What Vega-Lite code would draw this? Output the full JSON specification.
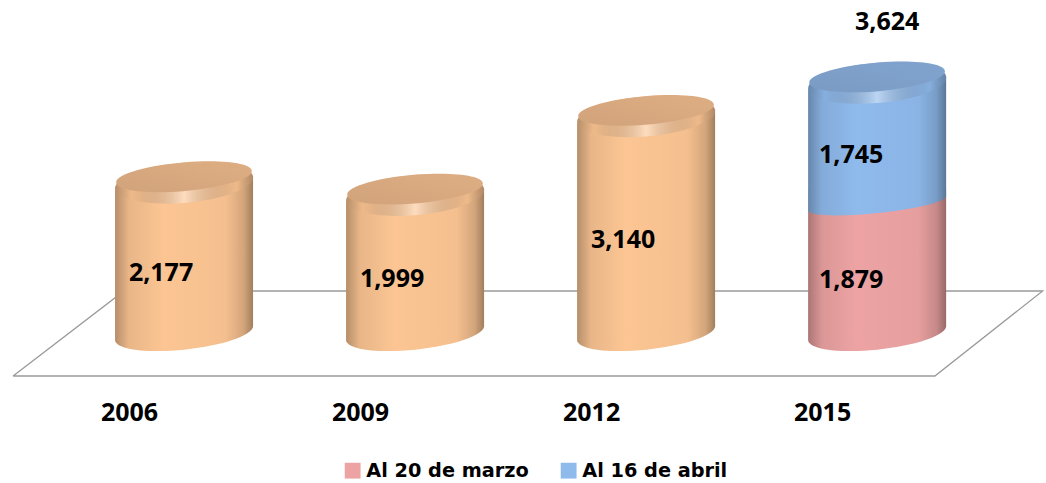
{
"$schema":"https://vega.github.io/schema/vega-lite/v6.json",
"width":1046,"height":400,
"autosize":{"type":"none"},
"padding":{"left":0,"top":0,"right":0,"bottom":83},
"background":"white",
"config":{"view":{"stroke":null}},
"datasets":{
"bars":[
{"year":2006,"series":"Total","start":0,"end":2177,"value":2177},
{"year":2009,"series":"Total","start":0,"end":1999,"value":1999},
{"year":2012,"series":"Total","start":0,"end":3140,"value":3140},
{"year":2015,"series":"Al 20 de marzo","start":0,"end":1879,"value":1879},
{"year":2015,"series":"Al 16 de abril","start":1879,"end":3624,"value":1745}
],
"floor":[
{"year":2003.78,"level":-623,"step":1},
{"year":2005.22,"level":609,"step":2},
{"year":2017.15,"level":609,"step":3},
{"year":2015.75,"level":-623,"step":4},
{"year":2003.78,"level":-623,"step":5}
],
"totals":[{"year":2015,"total":3624}]
},
"encoding":{"x":{"field":"year","type":"quantitative","scale":{"domain":[2003.61,2017.193],"nice":false,"zero":false,"padding":0},"axis":{"values":[2006,2009,2012,2015],"format":"d","title":null,"domain":false,"ticks":false,"grid":false,"labelOffset":-55,"labelFont":"Open Sans","labelFontWeight":"bold","labelFontSize":25,"labelColor":"#000","labelPadding":0,"labelBaseline":"top"}}},
"layer":[
{"data":{"name":"floor"},"mark":{"type":"line","color":"#9a9a9a","strokeWidth":1.3},
 "encoding":{"y":{"field":"level","type":"quantitative","scale":{"domain":[-971,4826],"nice":false,"zero":false},"axis":null},"order":{"field":"step"}}},
{"data":{"name":"bars"},"transform":[{"filter":"datum.start==0"}],"mark":{"type":"bar","width":138,"yOffset":7,"y2Offset":-7},
 "encoding":{"y":{"field":"start","type":"quantitative","axis":null},"y2":{"field":"end"},
 "color":{"field":"series","type":"nominal","scale":{"domain":["Al 20 de marzo","Al 16 de abril","Total"],"range":["#EDA3A3","#8FBAEC","#FCC593"]},
 "legend":{"values":["Al 20 de marzo","Al 16 de abril"],"title":null,"orient":"none","legendX":343,"legendY":461,"direction":"horizontal","symbolType":"square","symbolSize":250,"labelFont":"DejaVu Sans","labelFontWeight":"bold","labelFontSize":19.3,"labelColor":"#000","labelOffset":4,"labelLimit":400,"columnPadding":30,"symbolStrokeWidth":0,
 "encode":{"symbols":{"update":{"fill":{"signal":"datum.value=='Al 20 de marzo'?'#C27C7C':'#6F9ACD'"}}}}}}}},
{"data":{"name":"bars"},"transform":[{"filter":"datum.start>0"}],"mark":{"type":"bar","width":138,"yOffset":-7,"y2Offset":-7},
 "encoding":{"y":{"field":"start","type":"quantitative","axis":null},"y2":{"field":"end"},"color":{"field":"series","type":"nominal"}}},
{"data":{"name":"bars"},"transform":[{"filter":"datum.start>0"}],"mark":{"type":"point","filled":true,"opacity":1,"size":19044,"shape":"M-1,0.1A1,0.14,-6,1,0,1,-0.1L1,-0.2L-1,-0.2Z"},
 "encoding":{"y":{"field":"start","type":"quantitative","axis":null},"color":{"field":"series","type":"nominal"}}},
{"data":{"name":"bars"},"transform":[{"joinaggregate":[{"op":"max","field":"end","as":"top"}],"groupby":["year"]},{"filter":"datum.start==0"}],"mark":{"type":"bar","width":138,"yOffset":7,"y2Offset":-7,"fill":{"gradient":"linear","x1":0,"x2":1,"y1":0,"y2":0,"stops":[{"offset":0,"color":"rgba(0,0,0,0.28)"},{"offset":0.1,"color":"rgba(0,0,0,0.08)"},{"offset":0.35,"color":"rgba(0,0,0,0)"},{"offset":0.8,"color":"rgba(0,0,0,0.03)"},{"offset":0.93,"color":"rgba(0,0,0,0.16)"},{"offset":1,"color":"rgba(0,0,0,0.36)"}]}},
 "encoding":{"y":{"field":"start","type":"quantitative","axis":null},"y2":{"field":"top"}}},
{"data":{"name":"bars"},"transform":[{"filter":"datum.start==0"}],"mark":{"type":"point","filled":true,"opacity":1,"size":19044,"fill":"#ffffff","shape":"M-1.03,0.12L1.03,-0.09L1.03,0.3L-1.03,0.3Z"},
 "encoding":{"y":{"field":"start","type":"quantitative","axis":null}}},
{"data":{"name":"bars"},"transform":[{"filter":"datum.start==0"}],"mark":{"type":"point","filled":true,"opacity":1,"size":19044,"shape":"M-1,0.1A1,0.24,-6,1,0,1,-0.1L-1,0.1Z"},
 "encoding":{"y":{"field":"start","type":"quantitative","axis":null},"color":{"field":"series","type":"nominal"}}},
{"data":{"name":"bars"},"transform":[{"filter":"datum.start==0"}],"mark":{"type":"point","filled":true,"opacity":1,"size":19044,"shape":"M-1,0.1A1,0.24,-6,1,0,1,-0.1L-1,0.1Z","fill":{"gradient":"linear","x1":0,"x2":1,"y1":0,"y2":0,"stops":[{"offset":0,"color":"rgba(0,0,0,0.28)"},{"offset":0.1,"color":"rgba(0,0,0,0.08)"},{"offset":0.35,"color":"rgba(0,0,0,0)"},{"offset":0.8,"color":"rgba(0,0,0,0.03)"},{"offset":0.93,"color":"rgba(0,0,0,0.16)"},{"offset":1,"color":"rgba(0,0,0,0.36)"}]}},
 "encoding":{"y":{"field":"start","type":"quantitative","axis":null}}},
{"data":{"name":"bars"},"transform":[{"filter":"datum.start>0 || datum.series=='Total'"}],"mark":{"type":"point","filled":true,"opacity":1,"size":19044,"fill":"#ffffff","shape":"M-1.03,0.105L1.03,-0.105L1.03,-0.5L-1.03,-0.5Z"},
 "encoding":{"y":{"field":"end","type":"quantitative","axis":null}}},
{"data":{"name":"bars"},"transform":[{"filter":"datum.start>0 || datum.series=='Total'"}],"mark":{"type":"point","filled":true,"opacity":1,"size":19044,"shape":"M-1,0.08A1,0.29,-5,1,1,1,-0.08A1,0.29,-5,1,1,-1,0.08Z"},
 "encoding":{"y":{"field":"end","type":"quantitative","axis":null},"color":{"field":"series","type":"nominal"}}},
{"data":{"name":"bars"},"transform":[{"filter":"datum.start>0 || datum.series=='Total'"}],"mark":{"type":"point","filled":true,"opacity":1,"size":19044,"shape":"M-1,0.08A1,0.29,-5,1,1,1,-0.08A1,0.29,-5,1,1,-1,0.08Z","fill":{"gradient":"linear","x1":0,"x2":1,"y1":0,"y2":0,"stops":[{"offset":0,"color":"rgba(0,0,0,0.28)"},{"offset":0.12,"color":"rgba(0,0,0,0.06)"},{"offset":0.5,"color":"rgba(255,255,255,0.4)"},{"offset":0.88,"color":"rgba(0,0,0,0.06)"},{"offset":1,"color":"rgba(0,0,0,0.3)"}]}},
 "encoding":{"y":{"field":"end","type":"quantitative","axis":null}}},
{"data":{"name":"bars"},"transform":[{"filter":"datum.start>0 || datum.series=='Total'"}],"mark":{"type":"point","filled":true,"opacity":1,"size":18400,"yOffset":-6,"shape":"M-1,0.08A1,0.21,-5,1,1,1,-0.08A1,0.21,-5,1,1,-1,0.08Z"},
 "encoding":{"y":{"field":"end","type":"quantitative","axis":null},"color":{"field":"series","type":"nominal"}}},
{"data":{"name":"bars"},"transform":[{"filter":"datum.start>0 || datum.series=='Total'"}],"mark":{"type":"point","filled":true,"opacity":1,"size":18400,"yOffset":-6,"shape":"M-1,0.08A1,0.21,-5,1,1,1,-0.08A1,0.21,-5,1,1,-1,0.08Z","fill":{"gradient":"linear","x1":0,"x2":1,"y1":1,"y2":0,"stops":[{"offset":0,"color":"rgba(40,30,30,0.2)"},{"offset":1,"color":"rgba(40,30,30,0.14)"}]}},
 "encoding":{"y":{"field":"end","type":"quantitative","axis":null}}},
{"data":{"name":"bars"},"transform":[{"calculate":"(datum.start+datum.end)/2","as":"mid"},{"filter":"datum.start==0 && datum.series=='Total'"}],"mark":{"type":"text","font":"Open Sans","fontWeight":"bold","fontSize":25,"color":"#000","dx":-23,"dy":15},
 "encoding":{"y":{"field":"mid","type":"quantitative","axis":null},"text":{"field":"value","type":"quantitative","format":","}}},
{"data":{"name":"bars"},"transform":[{"calculate":"(datum.start+datum.end)/2","as":"mid"},{"filter":"datum.series!='Total'"}],"mark":{"type":"text","font":"Open Sans","fontWeight":"bold","fontSize":25,"color":"#000","dx":-26,"dy":12},
 "encoding":{"y":{"field":"mid","type":"quantitative","axis":null},"text":{"field":"value","type":"quantitative","format":","}}},
{"data":{"name":"totals"},"mark":{"type":"text","font":"Open Sans","fontWeight":"bold","fontSize":25,"color":"#000","dx":10,"dy":-61},
 "encoding":{"y":{"field":"total","type":"quantitative","axis":null},"text":{"field":"total","type":"quantitative","format":","}}}
]
}
